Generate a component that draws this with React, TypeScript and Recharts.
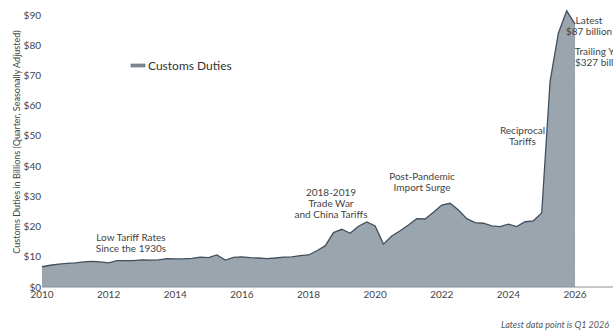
import { AreaChart, Area, XAxis, YAxis } from "recharts"

const startYear = 2010
// quarterly customs duties, $ billions (Q1 2010 .. Q1 2026)
const duties = [
  6.7, 7.2, 7.6, 7.8,
  8.0, 8.3, 8.5, 8.3,
  8.0, 8.7, 8.7, 8.7,
  9.0, 8.9, 9.0, 9.4,
  9.3, 9.3, 9.5, 9.9,
  9.7, 10.6, 8.9, 9.8,
  10.0, 9.7, 9.6, 9.4,
  9.6, 9.9, 10.0, 10.4,
  10.6, 12.0, 13.6, 18.0,
  19.1, 17.8, 20.1, 21.5,
  20.2, 14.2, 16.9, 18.6,
  20.5, 22.6, 22.5, 24.7,
  27.1, 27.7, 25.5, 22.6,
  21.3, 21.1, 20.2, 20.0,
  20.8, 20.0, 21.6, 21.9,
  24.5, 68, 84, 91.4,
  87,
]
const yearTicks = [2010, 2012, 2014, 2016, 2018, 2020, 2022, 2024, 2026]
const dollarTicks = [0, 10, 20, 30, 40, 50, 60, 70, 80, 90]

const annotations = [
  { lines: ["Low Tariff Rates", "Since the 1930s"], x: 131, y: 236.5 },
  { lines: ["2018-2019", "Trade War", "and China Tariffs"], x: 331, y: 191.5 },
  { lines: ["Post-Pandemic", "Import Surge"], x: 422, y: 176 },
  { lines: ["Reciprocal", "Tariffs"], x: 522.5, y: 130 },
  { lines: ["Latest", "$87 billion"], x: 589, y: 20 },
  { lines: ["Trailing Year", "$327 billion"], x: 601, y: 51 },
]

const data = duties.map((v, i) => ({ t: startYear + i / 4, duties: v }))

const font = "Lato, 'Noto Sans', sans-serif"
const fillColor = "#9ba5ae"
const lineColor = "#42505e"

export default function App() {
  return (
    <div style={{ position: "fixed", left: 0, top: 0, width: 613, height: 333, overflow: "hidden", background: "#fff" }}>
      <AreaChart width={640} height={333} data={data} margin={{ top: 9, right: 15, bottom: 16, left: 0 }}>
        <XAxis
          dataKey="t"
          type="number"
          domain={[2010, 2027.5]}
          ticks={yearTicks}
          tickLine={false}
          tickSize={0}
          tickMargin={4}
          height={30}
          stroke="#8a9096"
          tick={{ fontSize: 10, fill: "#444", fontFamily: font }}
        />
        <YAxis
          type="number"
          domain={[0, 92]}
          ticks={dollarTicks}
          width={42}
          axisLine={false}
          tickLine={false}
          tickSize={0}
          tickMargin={1}
          tickFormatter={(v) => `$${v}`}
          tick={{ fontSize: 10, fill: "#444", fontFamily: font }}
        />
        <Area
          type="linear"
          dataKey="duties"
          name="Customs Duties"
          fill={fillColor}
          fillOpacity={1}
          stroke={lineColor}
          strokeWidth={1.3}
          isAnimationActive={false}
        />
      </AreaChart>
      <svg width={613} height={333} style={{ position: "absolute", left: 0, top: 0, pointerEvents: "none" }}>
        {/* legend */}
        <rect x={131} y={64} width={14} height={3} fill="#7f8b97" stroke="#5d6b78" strokeWidth={0.6} />
        <text x={148} y={65.5} dominantBaseline="central" fontFamily={font} fontSize={12} fill="#333">
          Customs Duties
        </text>
        <text
          transform="translate(16,142) rotate(-90)"
          textAnchor="middle"
          dominantBaseline="central"
          fontFamily={font}
          fontSize={9}
          fill="#444"
        >
          Customs Duties in Billions (Quarter, Seasonally Adjusted)
        </text>
        {annotations.map((a) =>
          a.lines.map((line, j) => (
            <text
              key={line}
              x={a.x}
              y={a.y + j * 11}
              textAnchor="middle"
              dominantBaseline="central"
              fontFamily={font}
              fontSize={10}
              fill="#444"
            >
              {line}
            </text>
          ))
        )}
        <text x={609} y={324.5} textAnchor="end" dominantBaseline="central" fontFamily={font} fontSize={9} fontStyle="italic" fill="#555">
          Latest data point is Q1 2026
        </text>
      </svg>
    </div>
  )
}
